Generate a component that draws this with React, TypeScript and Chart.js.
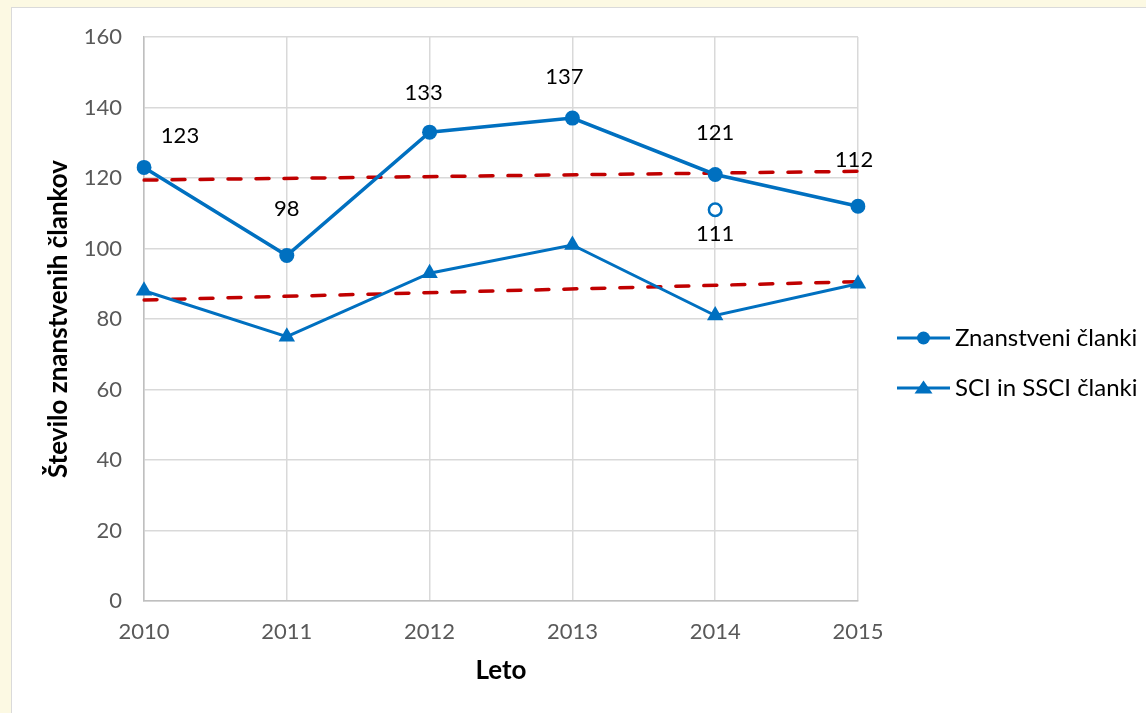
import { useEffect, useRef } from "react";
import { Chart, registerables } from "chart.js";

Chart.register(...registerables);

// ---- data ----
const years = ["2010", "2011", "2012", "2013", "2014", "2015"];
const znanstveniClanki = [123, 98, 133, 137, 121, 112];
const sciSsciClanki = [88, 75, 93, 101, 81, 90];
const extraPoint2014 = [null, null, null, null, 111, null];
const trendZnanstveni = [119.4, null, null, null, null, 121.9];
const trendSci = [85.4, null, null, null, null, 90.6];
const yMin = 0;
const yMax = 160;
const yStep = 20;
const seriesNames = ["Znanstveni članki", "SCI in SSCI članki"];

// ---- styles ----
const BLUE = "#0070C0";
const RED = "#C00000";
const FONT = "Lato, 'Open Sans', sans-serif";

const labelOffsets: Record<number, number[][]> = {
  0: [[36, -32], [0, -47], [-6, -39], [-8, -41], [0, -42], [-4, -46]],
  2: [[0, 0], [0, 0], [0, 0], [0, 0], [0, 24], [0, 0]],
};

const dataLabelPlugin = {
  id: "dataLabels",
  afterDatasetsDraw(chart: any) {
    const ctx = chart.ctx;
    ctx.save();
    ctx.font = `22px ${FONT}`;
    ctx.fillStyle = "#000";
    ctx.textAlign = "center";
    ctx.textBaseline = "middle";
    [0, 2].forEach((di) => {
      const meta = chart.getDatasetMeta(di);
      const data = chart.data.datasets[di].data;
      meta.data.forEach((el: any, i: number) => {
        const v = data[i];
        if (v === null || v === undefined) return;
        const off = labelOffsets[di][i];
        ctx.fillText(String(v), el.x + off[0], el.y + off[1]);
      });
    });
    ctx.restore();
  },
};

const legendPlugin = {
  id: "customLegend",
  afterDraw(chart: any) {
    const ctx = chart.ctx;
    const x0 = 885;
    const x1 = 938;
    const mx = 911.5;
    const tx = 943;
    const rows = [330, 380];
    ctx.save();
    rows.forEach((y, i) => {
      ctx.strokeStyle = BLUE;
      ctx.fillStyle = BLUE;
      ctx.lineWidth = 3;
      ctx.beginPath();
      ctx.moveTo(x0, y);
      ctx.lineTo(x1, y);
      ctx.stroke();
      ctx.beginPath();
      if (i === 0) {
        ctx.arc(mx, y, 6.5, 0, Math.PI * 2);
      } else {
        ctx.moveTo(mx, y - 7.5);
        ctx.lineTo(mx + 9, y + 5.5);
        ctx.lineTo(mx - 9, y + 5.5);
        ctx.closePath();
      }
      ctx.fill();
      ctx.font = `24px ${FONT}`;
      ctx.fillStyle = "#000";
      ctx.textAlign = "left";
      ctx.textBaseline = "middle";
      ctx.fillText(seriesNames[i], tx, y);
    });
    ctx.restore();
  },
};

export default function App() {
  const ref = useRef<HTMLCanvasElement>(null);

  useEffect(() => {
    const tickFont = { family: FONT, size: 22 };
    const titleFont = { family: FONT, size: 26, weight: "bold" as const };
    const chart = new Chart(ref.current!, {
      type: "line",
      data: {
        labels: years,
        datasets: [
          {
            label: seriesNames[0],
            data: znanstveniClanki,
            borderColor: BLUE,
            backgroundColor: BLUE,
            borderWidth: 3.5,
            pointStyle: "circle",
            pointRadius: 7.5,
            pointBorderWidth: 0,
            pointBackgroundColor: BLUE,
            tension: 0,
          },
          {
            label: seriesNames[1],
            data: sciSsciClanki,
            borderColor: BLUE,
            backgroundColor: BLUE,
            borderWidth: 3,
            pointStyle: "triangle",
            pointRadius: 9.5,
            pointBorderWidth: 0,
            pointBackgroundColor: BLUE,
            tension: 0,
          },
          {
            label: "extra",
            data: extraPoint2014,
            showLine: false,
            borderColor: BLUE,
            pointStyle: "circle",
            pointRadius: 6.3,
            pointBorderWidth: 2.5,
            pointBorderColor: BLUE,
            pointBackgroundColor: "#FFFFFF",
          },
          {
            label: "trend1",
            data: trendZnanstveni,
            borderColor: RED,
            borderWidth: 3.5,
            borderDash: [13, 15],
            borderCapStyle: "round",
            pointRadius: 0,
            spanGaps: true,
          },
          {
            label: "trend2",
            data: trendSci,
            borderColor: RED,
            borderWidth: 3.5,
            borderDash: [13, 15],
            borderCapStyle: "round",
            pointRadius: 0,
            spanGaps: true,
          },
        ],
      },
      options: {
        responsive: false,
        animation: false,
        layout: { autoPadding: false, padding: { left: 0, top: 29, right: 288, bottom: 0 } },
        plugins: {
          legend: { display: false },
          tooltip: { enabled: false },
        },
        scales: {
          x: {
            type: "category",
            offset: false,
            grid: { color: "#D9D9D9", lineWidth: 1.5, drawTicks: false },
            border: { color: "#BFBFBF", width: 1.5 },
            ticks: { padding: 18, color: "#595959", font: tickFont, maxRotation: 0 },
            title: {
              display: true,
              text: "Leto",
              color: "#000",
              font: titleFont,
              padding: { top: 0, bottom: 27 },
            },
            afterFit: (s: any) => {
              s.height = 112;
              s.paddingLeft = 0;
              s.paddingRight = 0;
            },
          },
          y: {
            min: yMin,
            max: yMax,
            grid: { color: "#D9D9D9", lineWidth: 1.5, drawTicks: false },
            border: { color: "#BFBFBF", width: 1.5 },
            ticks: { stepSize: yStep, padding: 22, color: "#595959", font: tickFont },
            title: {
              display: true,
              text: "Število znanstvenih člankov",
              color: "#000",
              font: titleFont,
              padding: { top: 31, bottom: 0 },
            },
            afterFit: (s: any) => {
              s.width = 132;
              s.paddingTop = 0;
              s.paddingBottom = 0;
            },
          },
        },
      },
      plugins: [dataLabelPlugin, legendPlugin],
    });
    return () => chart.destroy();
  }, []);

  return (
    <div
      style={{
        position: "fixed",
        left: 0,
        top: 0,
        width: 1146,
        height: 713,
        background: "#FCF9E3",
        overflow: "hidden",
      }}
    >
      <div
        style={{
          position: "absolute",
          left: 11,
          top: 7,
          width: 1135,
          height: 706,
          background: "#FFFFFF",
          borderLeft: "1px solid #DADADA",
          borderTop: "1px solid #DADADA",
        }}
      >
        <canvas ref={ref} width={1134} height={705} style={{ display: "block", width: 1134, height: 705 }} />
      </div>
    </div>
  );
}
